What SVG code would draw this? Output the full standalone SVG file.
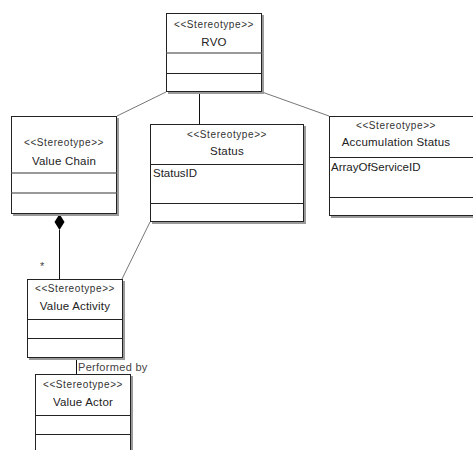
<svg xmlns="http://www.w3.org/2000/svg" width="473" height="450" viewBox="0 0 473 450">
<style>
.box{fill:#ffffff;stroke:#222222;stroke-width:1}
.shadow{fill:#9a9a9a}
.div1{stroke:#777777;stroke-width:1.5}
.div2{stroke:#222222;stroke-width:1}
.st{font-family:"Liberation Sans",Arial,sans-serif;font-size:10px;letter-spacing:0.6px;fill:#333333;text-anchor:middle}
.nm{font-family:"Liberation Sans",Arial,sans-serif;font-size:11.5px;letter-spacing:0.2px;fill:#222222;text-anchor:middle}
.at{font-family:"Liberation Sans",Arial,sans-serif;font-size:11.5px;fill:#222222}
.lbl{font-family:"Liberation Sans",Arial,sans-serif;font-size:11px;letter-spacing:0.3px;fill:#444444}
.conn{stroke:#777777;stroke-width:1;fill:none}
.connd{stroke:#111111;stroke-width:1;fill:none}
</style>
<rect width="473" height="450" fill="#ffffff"/>
<g id="connectors">
<line class="conn" x1="166" y1="92" x2="117" y2="116"/>
<line class="connd" x1="199.5" y1="92" x2="199.5" y2="124"/>
<line class="conn" x1="262" y1="92" x2="329" y2="116"/>
<line class="conn" x1="150" y1="222" x2="122" y2="279"/>
<line class="connd" x1="59.5" y1="230" x2="59.5" y2="279"/>
<polygon points="59.5,214 64.5,222 59.5,230 54.5,222" fill="#000000"/>
<text class="lbl" x="40" y="270">*</text>
<line class="connd" x1="76.5" y1="358" x2="76.5" y2="374"/>
<text class="lbl" x="78" y="371">Performed by</text>
</g>
<g id="rvo">
<rect class="shadow" x="168" y="15" width="96" height="79"/>
<rect class="box" x="166.5" y="13.5" width="95" height="78"/>
<line class="div1" x1="166.5" y1="53" x2="261.5" y2="53"/>
<line class="div2" x1="166.5" y1="73.5" x2="261.5" y2="73.5"/>
<text class="st" x="214" y="28">&lt;&lt;Stereotype&gt;&gt;</text>
<text class="nm" x="214" y="46">RVO</text>
</g>
<g id="value-chain">
<rect class="shadow" x="13" y="118" width="106" height="98"/>
<rect class="box" x="11.5" y="116.5" width="105" height="97"/>
<line class="div1" x1="11.5" y1="173" x2="116.5" y2="173"/>
<line class="div1" x1="11.5" y1="193" x2="116.5" y2="193"/>
<text class="st" x="64" y="146">&lt;&lt;Stereotype&gt;&gt;</text>
<text class="nm" x="64" y="165">Value Chain</text>
</g>
<g id="status">
<rect class="shadow" x="152" y="126" width="154" height="98"/>
<rect class="box" x="150.5" y="124.5" width="153" height="97"/>
<line class="div2" x1="150.5" y1="164.5" x2="303.5" y2="164.5"/>
<line class="div2" x1="150.5" y1="203.5" x2="303.5" y2="203.5"/>
<text class="st" x="227" y="138">&lt;&lt;Stereotype&gt;&gt;</text>
<text class="nm" x="227" y="155">Status</text>
<text class="at" x="153" y="177">StatusID</text>
</g>
<g id="accumulation-status">
<rect class="shadow" x="331" y="118" width="150" height="100"/>
<rect class="box" x="329.5" y="116.5" width="150" height="99"/>
<line class="div2" x1="329.5" y1="157.5" x2="479" y2="157.5"/>
<line class="div2" x1="329.5" y1="197.5" x2="479" y2="197.5"/>
<text class="st" x="396" y="129">&lt;&lt;Stereotype&gt;&gt;</text>
<text class="nm" x="396" y="146">Accumulation Status</text>
<text class="at" x="331" y="171">ArrayOfServiceID</text>
</g>
<g id="value-activity">
<rect class="shadow" x="29" y="281" width="96" height="79"/>
<rect class="box" x="27.5" y="279.5" width="95" height="78"/>
<line class="div2" x1="27.5" y1="319.5" x2="122.5" y2="319.5"/>
<line class="div2" x1="27.5" y1="338.5" x2="122.5" y2="338.5"/>
<text class="st" x="75" y="292">&lt;&lt;Stereotype&gt;&gt;</text>
<text class="nm" x="75" y="310">Value Activity</text>
</g>
<g id="value-actor">
<rect class="shadow" x="37" y="376" width="96" height="80"/>
<rect class="box" x="35.5" y="374.5" width="95" height="80"/>
<line class="div2" x1="35.5" y1="415.5" x2="130.5" y2="415.5"/>
<line class="div2" x1="35.5" y1="434.5" x2="130.5" y2="434.5"/>
<text class="st" x="83" y="388">&lt;&lt;Stereotype&gt;&gt;</text>
<text class="nm" x="83" y="406">Value Actor</text>
</g>
</svg>
